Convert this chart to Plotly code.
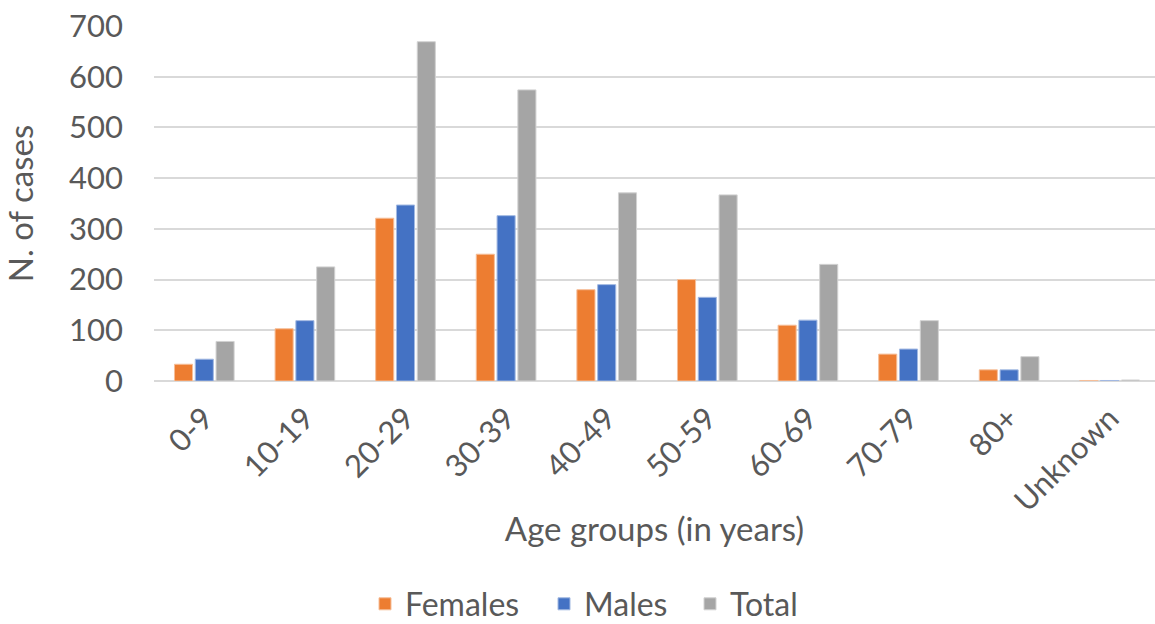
import plotly.graph_objects as go

categories = ["0-9", "10-19", "20-29", "30-39", "40-49", "50-59", "60-69", "70-79", "80+", "Unknown"]
females = [33, 103, 321, 250, 180, 200, 110, 53, 22, 1]
males = [43, 119, 347, 326, 190, 165, 120, 63, 22, 1]
total = [78, 225, 669, 574, 371, 367, 230, 119, 48, 2]
y_ticks = [0, 100, 200, 300, 400, 500, 600, 700]

FONT = "Lato, Open Sans, sans-serif"
TXT = "#595959"
W, H = 1155, 624

fig = go.Figure()
series = [
    ("Females", females, "#ED7D31", "#F6BE98", "legend", 379),
    ("Males", males, "#4472C4", "#A2B9E2", "legend2", 558),
    ("Total", total, "#A5A5A5", "#D2D2D2", "legend3", 704),
]
legend_cfg = {}
for name, vals, col, edge, lg, sq_x in series:
    fig.add_trace(go.Bar(
        name=name, x=categories, y=vals, legend=lg,
        marker=dict(color=col, line=dict(color=edge, width=1)),
    ))
    legend_cfg[lg] = dict(
        orientation="h", xref="container", yref="container",
        x=(sq_x - 14) / W, xanchor="left", y=1 - 604 / H, yanchor="middle",
        font=dict(family=FONT, size=32, color=TXT),
        bgcolor="rgba(0,0,0,0)", borderwidth=0,
    )

fig.update_layout(
    width=W, height=H,
    margin=dict(l=154, r=0, t=26, b=243),
    paper_bgcolor="white", plot_bgcolor="white",
    barmode="group", bargap=0.38, bargroupgap=0.13,
    font=dict(family=FONT, size=31, color=TXT),
    showlegend=True,
    **legend_cfg,
)
fig.update_xaxes(
    type="category", range=[-0.5, 9.45], automargin=False,
    tickangle=-45, tickfont=dict(family=FONT, size=31, color=TXT),
    showgrid=False, showline=False, zeroline=False,
    ticklabelstandoff=12,
    title=dict(text="Age groups (in years)", font=dict(family=FONT, size=33, color=TXT), standoff=0),
)
fig.update_yaxes(
    range=[0, 700], tickvals=y_ticks, automargin=False,
    tickfont=dict(family=FONT, size=31, color=TXT),
    showgrid=True, gridcolor="#D9D9D9", gridwidth=2,
    zeroline=True, zerolinecolor="#D9D9D9", zerolinewidth=2,
    showline=False, ticklabelstandoff=30,
    title=dict(text="N. of cases", font=dict(family=FONT, size=33, color=TXT), standoff=30),
)

fig.write_html("out.html", config={"displayModeBar": False},
               post_script="document.body.style.margin='0';document.body.style.overflow='hidden';")
